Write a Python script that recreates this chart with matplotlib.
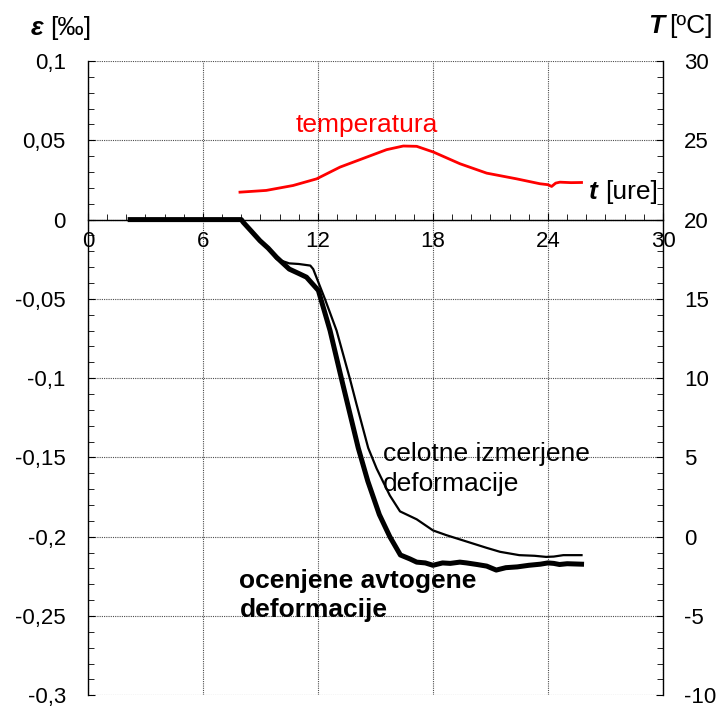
import numpy as np
import matplotlib.pyplot as plt
from matplotlib.ticker import MultipleLocator, FuncFormatter

plt.rcParams['font.family'] = ['Liberation Sans', 'DejaVu Sans']
plt.rcParams['axes.unicode_minus'] = False

# celotne izmerjene deformacije (tanka crta)
t_tot = [2.2, 7.9, 8.1, 8.5, 8.97, 9.4, 9.84, 10.5, 11.0, 11.6, 11.75, 12.36, 12.97,
         13.67, 14.0, 14.62, 15.06, 15.75, 16.28, 17.15, 18.0, 18.7, 19.75, 20.8,
         21.5, 22.5, 23.3, 23.9, 24.3, 24.8, 25.75]
eps_tot = [0, 0, -0.0017, -0.007, -0.0133, -0.018, -0.0249, -0.0276, -0.028, -0.029,
           -0.0312, -0.050, -0.070, -0.1006, -0.116, -0.144, -0.157, -0.174, -0.184,
           -0.189, -0.196, -0.199, -0.203, -0.207, -0.2095, -0.2116, -0.212, -0.2127,
           -0.2125, -0.2116, -0.2116]

# ocenjene avtogene deformacije (debela crta)
t_avt = [2.2, 8.0, 8.1, 8.5, 8.97, 9.4, 9.84, 10.5, 11.0, 11.4, 12.02, 12.63, 13.23,
         14.1, 14.6, 15.2, 15.75, 16.3, 16.8, 17.15, 17.6, 18.0, 18.5,
         18.9, 19.4, 19.75, 20.3, 20.8, 21.3, 21.8, 22.4, 23.0, 23.6, 24.0, 24.3,
         24.6, 25.0, 25.75]
eps_avt = [0, 0, -0.0017, -0.007, -0.0133, -0.018, -0.0238, -0.0312, -0.034, -0.0363,
           -0.0447, -0.070, -0.1006, -0.144, -0.165, -0.186, -0.200,
           -0.2115, -0.214, -0.216, -0.2165, -0.218, -0.2165, -0.2168, -0.216, -0.2165,
           -0.2175, -0.2185, -0.221, -0.2195, -0.219, -0.218, -0.2173, -0.2165,
           -0.2168, -0.2175, -0.217, -0.2173]

# temperatura
t_temp = [7.93, 9.3, 10.7, 11.93, 13.15, 14.54, 15.58, 16.45, 17.15, 18.02, 19.41,
          20.8, 22.36, 23.58, 24.0, 24.19, 24.4, 24.62, 25.2, 25.75]
T_temp = [21.73, 21.84, 22.15, 22.57, 23.31, 23.94, 24.41, 24.64, 24.62, 24.26, 23.52,
          22.93, 22.57, 22.26, 22.2, 22.09, 22.3, 22.36, 22.33, 22.34]

fig = plt.figure(figsize=(7.23, 7.07), dpi=100)
ax = fig.add_axes([0.1217, 0.0165, 0.7953, 0.8972])
ax2 = ax.twinx()

ax.set_xlim(0, 30)
ax.set_ylim(-0.3, 0.1)
ax2.set_ylim(-10, 30)

comma = FuncFormatter(lambda v, p: ('%g' % round(v, 3)).replace('.', ','))
ax.xaxis.set_major_locator(MultipleLocator(6))
ax.xaxis.set_minor_locator(MultipleLocator(1))
ax.yaxis.set_major_locator(MultipleLocator(0.05))
ax.yaxis.set_minor_locator(MultipleLocator(0.01))
ax.yaxis.set_major_formatter(comma)
ax2.yaxis.set_major_locator(MultipleLocator(5))
ax2.yaxis.set_minor_locator(MultipleLocator(1))
ax2.yaxis.set_major_formatter(FuncFormatter(lambda v, p: '%d' % v))

ax.spines['top'].set_visible(False)
ax.spines['right'].set_visible(False)
ax.spines['bottom'].set_position(('data', 0))
for s in ['top', 'bottom', 'left']:
    ax2.spines[s].set_visible(False)
for sp in [ax.spines['left'], ax.spines['bottom'], ax2.spines['right']]:
    sp.set_linewidth(1.0)

ax.tick_params(axis='x', which='major', direction='in', length=5, labelsize=16, pad=8)
ax.tick_params(axis='x', which='minor', direction='in', length=4)
ax.tick_params(axis='y', which='major', direction='in', length=5, labelsize=16, pad=16)
ax.tick_params(axis='y', which='minor', direction='in', length=4)
ax2.tick_params(axis='y', which='major', direction='in', length=5, labelsize=16, pad=15)
ax2.tick_params(axis='y', which='minor', direction='in', length=4)

ax.grid(True, which='major', linestyle=(0, (1, 1)), color='0.3', linewidth=0.8)
ax.set_axisbelow(True)

ax.plot(t_tot, eps_tot, color='black', linewidth=1.6)
ax.plot(t_avt, eps_avt, color='black', linewidth=3.6)
ax2.plot(t_temp, T_temp, color='red', linewidth=2.0)

ax.text(14.55, 0.0595, 'temperatura', color='red', fontsize=19, ha='center', va='center')
ax.text(15.4, -0.148, 'celotne izmerjene', fontsize=19, ha='left', va='center')
ax.text(15.4, -0.167, 'deformacije', fontsize=19, ha='left', va='center')
ax.text(7.9, -0.228, 'ocenjene avtogene', fontsize=19, fontweight='bold', ha='left', va='center')
ax.text(7.9, -0.2465, 'deformacije', fontsize=19, fontweight='bold', ha='left', va='center')

# oznake osi
fig.text(31 / 723, 1 - 28 / 707, 'ε', fontsize=19, fontweight='bold', style='italic', ha='left', va='center')
fig.text(50 / 723, 1 - 28 / 707, '[‰]', fontsize=19, ha='left', va='center')
fig.text(648 / 723, 1 - 26 / 707, 'T', fontsize=19, fontweight='bold', style='italic', ha='left', va='center')
fig.text(669 / 723, 1 - 26 / 707, '[ºC]', fontsize=19, ha='left', va='center')
fig.text(589 / 723, 1 - 192 / 707, 't', fontsize=19, fontweight='bold', style='italic', ha='left', va='center')
fig.text(605 / 723, 1 - 192 / 707, '[ure]', fontsize=19, ha='left', va='center')

fig.savefig('out.png', dpi=100)
